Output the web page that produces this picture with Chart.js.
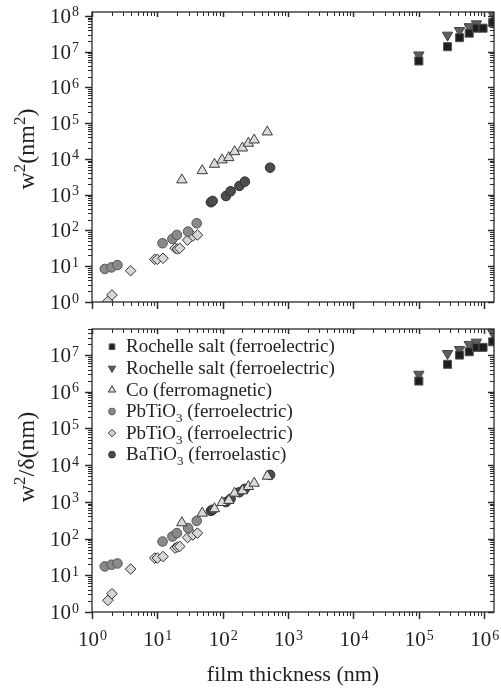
<!DOCTYPE html>
<html>
<head>
<meta charset="utf-8">
<script src="https://cdn.jsdelivr.net/npm/chart.js@4.4.1/dist/chart.umd.min.js"></script>
<style>
  html, body { margin: 0; padding: 0; background: #fff; overflow: hidden; }
  canvas { position: absolute; left: 0; }
  #topChart { top: 0; }
  #bottomChart { top: 320px; }
</style>
</head>
<body>
<canvas id="topChart" width="501" height="320"></canvas>
<canvas id="bottomChart" width="501" height="369"></canvas>
<script>
// film thickness (nm) with w^2 (top) and w^2/delta (bottom)
const rochelleSqX = [1e5, 2.75e5, 4.2e5, 5.9e5, 7.6e5, 9.6e5, 1.35e6];
const rochelleSqW2 = [5.5e6, 1.38e7, 2.47e7, 3.3e7, 4.55e7, 4.55e7, 6.5e7];
const rochelleSqW2d = [1.96e6, 5.6e6, 1.0e7, 1.23e7, 1.62e7, 1.62e7, 2.3e7];

const rochelleTriX = [1e5, 2.75e5, 4.2e5, 5.9e5, 7.6e5, 1.35e6];
const rochelleTriW2 = [8.1e6, 2.9e7, 3.9e7, 5e7, 6e7, 1.14e8];
const rochelleTriW2d = [3.0e6, 1.1e7, 1.42e7, 1.95e7, 2.25e7, 4.1e7];

const coX = [23.7, 48.6, 74.8, 97.6, 124, 152, 200, 247, 303, 480];
const coW2 = [2600, 4700, 7100, 9400, 10900, 16000, 20300, 27500, 34000, 57000];
const coW2d = [270, 494, 650, 960, 1100, 1730, 2000, 2620, 3230, 5000];

const pbCircX = [1.57, 1.99, 2.45, 12, 17, 19.9, 29.5, 40];
const pbCircW2 = [8.4, 9.3, 10.8, 44, 58, 75, 93, 159];
const pbCircW2d = [17.4, 19.4, 21, 83, 114, 141, 193, 304];

const pbDiaX = [1.75, 2.02, 3.9, 9.1, 10, 12.2, 18.7, 20.3, 22, 29, 35, 41];
const pbDiaW2 = [1.05, 1.57, 7.5, 15.6, 15.6, 16.7, 31.8, 30.4, 31.8, 54, 70, 75];
const pbDiaW2d = [2.07, 3.15, 14.8, 29.5, 29.5, 32.5, 55, 59, 61, 107, 126, 141];

const baX = [66, 70, 112, 132, 180, 218, 530];
const baW2 = [617, 670, 920, 1250, 1760, 2320, 5700];
const baW2d = [570, 610, 985, 1210, 1830, 2260, 5430];

const seriesNames = [
  'Rochelle salt (ferroelectric)',
  'Rochelle salt (ferroelectric)',
  'Co (ferromagnetic)',
  'PbTiO₃ (ferroelectric)',
  'PbTiO₃ (ferroelectric)',
  'BaTiO₃ (ferroelastic)'
];
const xDecades = [0, 1, 2, 3, 4, 5, 6];
const topDecades = [0, 1, 2, 3, 4, 5, 6, 7, 8];
const bottomDecades = [0, 1, 2, 3, 4, 5, 6, 7];

const FONT = '"Liberation Serif", "Times New Roman", serif';
const INK = '#222';

const looks = [
  { pointStyle: 'rect', pointRotation: 0, pointRadius: 5.7, backgroundColor: '#1e1e1e', borderColor: '#555' },
  { pointStyle: 'triangle', pointRotation: 180, pointRadius: 6, backgroundColor: '#5e5e5e', borderColor: '#444' },
  { pointStyle: 'triangle', pointRotation: 0, pointRadius: 6, backgroundColor: '#dadada', borderColor: '#3a3a3a' },
  { pointStyle: 'circle', pointRotation: 0, pointRadius: 4.8, backgroundColor: '#8a8a8a', borderColor: '#555' },
  { pointStyle: 'rectRot', pointRotation: 0, pointRadius: 5.3, backgroundColor: '#d6d6d6', borderColor: '#333' },
  { pointStyle: 'circle', pointRotation: 0, pointRadius: 4.8, backgroundColor: '#4c4c4c', borderColor: '#2e2e2e' }
];

function pts(xs, ys) {
  return xs.map((x, i) => ({ x: x, y: ys[i] }));
}

function makeSets(series) {
  return series.map((s, i) => Object.assign({
    label: seriesNames[i],
    data: pts(s[0], s[1]),
    borderWidth: 1,
    pointHoverRadius: looks[i].pointRadius,
    clip: 0
  }, looks[i]));
}

function line(ctx, x1, y1, x2, y2) {
  ctx.beginPath();
  ctx.moveTo(x1, y1);
  ctx.lineTo(x2, y2);
  ctx.stroke();
}

function logTicks(min, max) {
  const out = [];
  for (let d = Math.floor(Math.log10(min)); d <= Math.ceil(Math.log10(max)); d++) {
    for (let k = 1; k <= 9; k++) {
      const v = k * Math.pow(10, d);
      if (v >= min * 0.999 && v <= max * 1.001) out.push({ v: v, major: k === 1 });
    }
  }
  return out;
}

// "10" with a raised exponent
function drawPow(ctx, x, y, exp, align) {
  ctx.fillStyle = INK;
  ctx.textAlign = 'left';
  ctx.textBaseline = 'alphabetic';
  ctx.font = '21px ' + FONT;
  const w1 = ctx.measureText('10').width;
  ctx.font = '14px ' + FONT;
  const w2 = ctx.measureText(String(exp)).width;
  const x0 = align === 'center' ? x - (w1 + w2) / 2 : x - w1 - w2 - 1;
  ctx.font = '21px ' + FONT;
  ctx.fillText('10', x0, y + 7);
  ctx.font = '14px ' + FONT;
  ctx.fillText(String(exp), x0 + w1 + 1, y + 0.5);
}

const SUB = '₀₁₂₃₄₅₆₇₈₉';
const SUP = '⁰¹²³⁴⁵⁶⁷⁸⁹';

// split text into runs, small digits lowered (₃) or raised (²)
function runs(text) {
  const out = [];
  for (const ch of text) {
    let kind = 'n', c = ch;
    if (SUB.includes(ch)) { kind = 'sub'; c = String(SUB.indexOf(ch)); }
    else if (SUP.includes(ch)) { kind = 'sup'; c = String(SUP.indexOf(ch)); }
    const last = out[out.length - 1];
    if (last && last.kind === kind) last.t += c;
    else out.push({ kind: kind, t: c });
  }
  return out;
}

function richWidth(ctx, text, size) {
  let w = 0;
  runs(text).forEach(r => {
    ctx.font = (r.kind === 'n' ? size : Math.round(size * 0.7)) + 'px ' + FONT;
    w += ctx.measureText(r.t).width;
  });
  return w;
}

function drawRich(ctx, text, x, y, size) {
  ctx.fillStyle = INK;
  ctx.textAlign = 'left';
  ctx.textBaseline = 'alphabetic';
  runs(text).forEach(r => {
    let dy = 0;
    if (r.kind === 'n') ctx.font = size + 'px ' + FONT;
    else {
      ctx.font = Math.round(size * 0.7) + 'px ' + FONT;
      dy = r.kind === 'sub' ? size * 0.25 : -size * 0.36;
    }
    ctx.fillText(r.t, x, y + dy);
    x += ctx.measureText(r.t).width;
  });
}

const logFrame = {
  id: 'logFrame',
  afterDatasetsDraw(chart, args, o) {
    const ctx = chart.ctx;
    const a = chart.chartArea;
    const xs = chart.scales.x;
    const ys = chart.scales.y;
    ctx.save();
    ctx.strokeStyle = '#2a2a2a';

    logTicks(xs.min, xs.max).forEach(t => {
      const px = Math.round(xs.getPixelForValue(t.v)) + 0.5;
      ctx.lineWidth = t.major ? 1.5 : 1;
      line(ctx, px, a.bottom, px, a.bottom + (t.major ? 7 : 4));
      line(ctx, px, a.top, px, a.top + (t.major ? 5 : 4));
    });
    logTicks(ys.min, ys.max).forEach(t => {
      const py = Math.round(ys.getPixelForValue(t.v)) + 0.5;
      ctx.lineWidth = t.major ? 1.5 : 1;
      line(ctx, a.left - (t.major ? 7 : 4), py, a.left, py);
      line(ctx, a.right - (t.major ? 6 : 4), py, a.right, py);
    });

    ctx.lineWidth = 1.3;
    ctx.strokeRect(a.left, a.top, a.right - a.left, a.bottom - a.top);

    o.yDecades.forEach(d => drawPow(ctx, a.left - 13, ys.getPixelForValue(Math.pow(10, d)), d, 'right'));
    if (o.xDecades) {
      o.xDecades.forEach(d => drawPow(ctx, xs.getPixelForValue(Math.pow(10, d)), o.xLabelY, d, 'center'));
    }
    if (o.xTitle) {
      ctx.font = '22px ' + FONT;
      ctx.fillStyle = INK;
      ctx.textAlign = 'center';
      ctx.textBaseline = 'middle';
      ctx.fillText(o.xTitle, (a.left + a.right) / 2, o.xTitleY);
    }
    ctx.translate(o.yTitleX, o.yTitleY);
    ctx.rotate(-Math.PI / 2);
    const tw = richWidth(ctx, o.yTitle, 24);
    drawRich(ctx, o.yTitle, -tw / 2, 8, 24);
    ctx.restore();
  }
};

const legendBox = {
  id: 'legendBox',
  afterDatasetsDraw(chart, args, o) {
    if (!o.show) return;
    const ctx = chart.ctx;
    ctx.save();
    chart.data.datasets.forEach((ds, i) => {
      const y = o.top + i * o.step;
      ctx.fillStyle = ds.backgroundColor;
      ctx.strokeStyle = ds.borderColor;
      ctx.lineWidth = 1;
      Chart.helpers.drawPoint(ctx, {
        pointStyle: ds.pointStyle,
        rotation: ds.pointRotation,
        radius: ds.pointRadius * 0.7,
        borderWidth: 1
      }, o.left, y);
      drawRich(ctx, ds.label, o.left + 14, y + 5.7, 19);
    });
    ctx.restore();
  }
};

function makeChart(id, series, yMax, pad, frameOpts, legendOpts) {
  return new Chart(document.getElementById(id), {
    type: 'scatter',
    data: { datasets: makeSets(series) },
    options: {
      responsive: false,
      animation: false,
      layout: { padding: pad },
      scales: {
        x: { type: 'logarithmic', min: 1, max: Math.pow(10, 6.15), display: false },
        y: { type: 'logarithmic', min: 1, max: yMax, display: false }
      },
      plugins: {
        legend: { display: false },
        tooltip: { enabled: false },
        logFrame: frameOpts,
        legendBox: legendOpts
      }
    },
    plugins: [logFrame, legendBox]
  });
}

makeChart('topChart', [
  [rochelleSqX, rochelleSqW2],
  [rochelleTriX, rochelleTriW2],
  [coX, coW2],
  [pbCircX, pbCircW2],
  [pbDiaX, pbDiaW2],
  [baX, baW2]
], Math.pow(10, 8.11), { left: 92, right: 3, top: 12, bottom: 18 }, {
  yDecades: topDecades,
  yTitle: 'w²(nm²)', yTitleX: 26, yTitleY: 149
}, { show: false });

makeChart('bottomChart', [
  [rochelleSqX, rochelleSqW2d],
  [rochelleTriX, rochelleTriW2d],
  [coX, coW2d],
  [pbCircX, pbCircW2d],
  [pbDiaX, pbDiaW2d],
  [baX, baW2d]
], Math.pow(10, 7.71), { left: 92, right: 3, top: 9, bottom: 77 }, {
  yDecades: bottomDecades,
  xDecades: xDecades, xLabelY: 319,
  xTitle: 'film thickness (nm)', xTitleY: 355,
  yTitle: 'w²/δ(nm)', yTitleX: 26, yTitleY: 137
}, { show: true, left: 112, top: 26.7, step: 21.6 });
</script>
</body>
</html>
